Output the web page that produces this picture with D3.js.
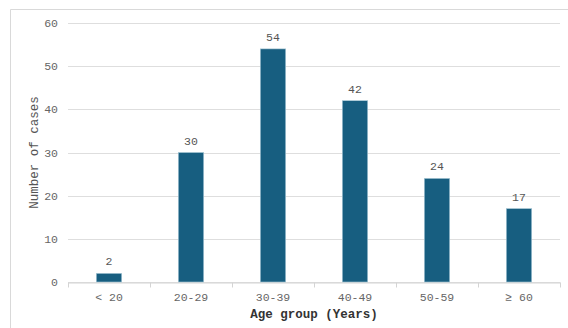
<!DOCTYPE html>
<html>
<head>
    <meta charset="utf-8">
    <script src="https://d3js.org/d3.v7.min.js"></script>
    <style>
        body { margin: 0; background: #fff; }
        text { font-family: "Liberation Mono", "Courier New", monospace; }
    </style>
</head>
<body></body>
<script>
    var ageGroups = ["< 20", "20-29", "30-39", "40-49", "50-59", "\u2265 60"];
    var cases = [2, 30, 54, 42, 24, 17];
    var yTicks = [0, 10, 20, 30, 40, 50, 60];

    var W = 568, H = 328;
    var margin = {top: 23, right: 8, bottom: 46, left: 68};

    var svg = d3.select("body").append("svg")
        .attr("width", W)
        .attr("height", H);

    // frame: top and left edges only
    svg.append("path")
        .attr("d", "M10.5," + H + "V9.5H" + W)
        .attr("fill", "none")
        .attr("stroke", "#d9d9d9");

    let x = d3.scaleBand().domain(ageGroups).range([margin.left, W - margin.right]);
    let y = d3.scaleLinear().domain([0, 60]).range([H - margin.bottom, margin.top]);

    var barW = x.bandwidth() * 0.31;

    // gridlines
    svg.append("g").selectAll("line").data(yTicks).enter().append("line")
        .attr("x1", margin.left).attr("x2", W - margin.right)
        .attr("y1", d => Math.round(y(d)) + 0.5).attr("y2", d => Math.round(y(d)) + 0.5)
        .attr("stroke", "#dedede");

    // y tick labels
    svg.append("g").selectAll("text").data(yTicks).enter().append("text")
        .attr("x", 58)
        .attr("y", d => y(d) + 4)
        .attr("text-anchor", "end")
        .attr("font-size", 11.5)
        .attr("fill", "#666")
        .text(d => d);

    // x axis
    var xAxis = d3.axisBottom(x).tickSize(4).tickSizeOuter(0).tickFormat("");
    var gx = svg.append("g")
        .attr("transform", "translate(0," + (Math.round(y(0)) + 0.5) + ")");
    gx.call(xAxis);
    gx.select(".domain").attr("stroke", "#d4d4d4");
    // ticks at band boundaries instead of centres
    gx.selectAll(".tick").remove();
    var edges = ageGroups.map(d => x(d)).concat([x.range()[1]]);
    gx.selectAll("line.edge").data(edges).enter().append("line")
        .attr("class", "edge")
        .attr("x1", d => Math.round(d) + 0.5).attr("x2", d => Math.round(d) + 0.5)
        .attr("y1", 0).attr("y2", 5)
        .attr("stroke", "#d4d4d4");

    svg.append("g").selectAll("text").data(ageGroups).enter().append("text")
        .attr("x", d => x(d) + x.bandwidth() / 2)
        .attr("y", y(0) + 19)
        .attr("text-anchor", "middle")
        .attr("font-size", 11.5)
        .attr("fill", "#666")
        .text(d => d);

    // bars
    svg.append("g").selectAll("rect").data(cases).enter().append("rect")
        .attr("x", (d, i) => x(ageGroups[i]) + (x.bandwidth() - barW) / 2)
        .attr("y", d => y(d))
        .attr("width", barW)
        .attr("height", d => y(0) - y(d))
        .attr("fill", "#175e80")
        .attr("stroke", "#a9c8d6")
        .attr("stroke-width", 0.6);

    // value labels
    svg.append("g").selectAll("text").data(cases).enter().append("text")
        .attr("x", (d, i) => x(ageGroups[i]) + x.bandwidth() / 2)
        .attr("y", d => y(d) - 8)
        .attr("text-anchor", "middle")
        .attr("font-size", 11.5)
        .attr("fill", "#555")
        .text(d => d);

    // axis titles
    svg.append("text")
        .attr("x", (margin.left + W - margin.right) / 2)
        .attr("y", 318)
        .attr("text-anchor", "middle")
        .attr("font-size", 12.5)
        .attr("font-weight", "bold")
        .attr("fill", "#333")
        .text("Age group (Years)");

    svg.append("text")
        .attr("transform", "translate(38," + ((margin.top + H - margin.bottom) / 2) + ") rotate(-90)")
        .attr("text-anchor", "middle")
        .attr("font-size", 12.5)
        .attr("fill", "#555")
        .text("Number of cases");
</script>
</html>
